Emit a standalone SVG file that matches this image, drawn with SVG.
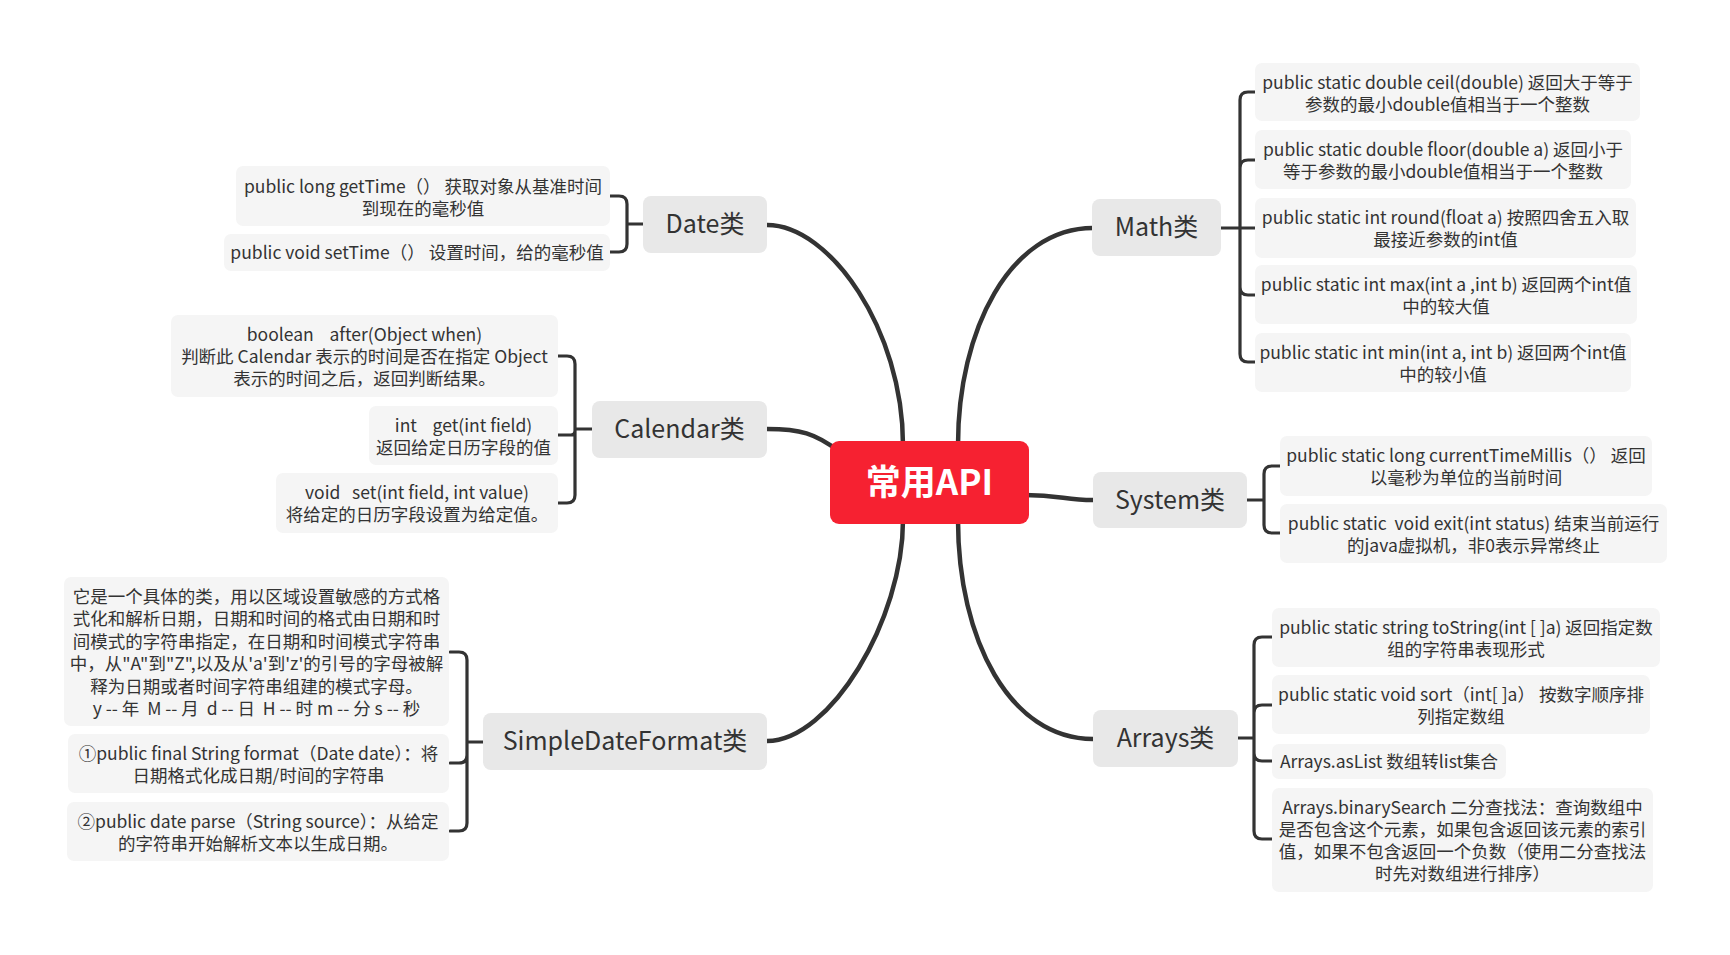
<svg xmlns="http://www.w3.org/2000/svg" width="1730" height="955" viewBox="0 0 1730 955">
<style>
text{font-family:"Noto Sans CJK SC","Noto Sans",sans-serif;fill:#333;text-anchor:middle;white-space:pre}
.c{fill:#F5F5F5}
.t{fill:#E8E8E8}
.ct{font-size:17.5px}
.tt{font-size:25px}
.main{fill:none;stroke:#333;stroke-width:4.5;stroke-linecap:round}
.br{fill:none;stroke:#333;stroke-width:3.2;stroke-linecap:round;stroke-linejoin:round}
</style>
<rect width="1730" height="955" fill="#fff"/>
<g id="connectors">
<path class="main" d="M767,225 C830,225 903,330 903,445"/>
<path class="main" d="M767,429 C800,429 815,433 840,452"/>
<path class="main" d="M767,741 C830,741 903,620 903,520"/>
<path class="main" d="M958,445 C958,330 1010,228 1093,228"/>
<path class="main" d="M1025,495 C1060,495 1065,500 1093,500"/>
<path class="main" d="M958,520 C958,640 1010,739 1093,739"/>
<path class="br" d="M643,224 H627 M627,224 V204 Q627,196 619,196 H610 M627,224 V244 Q627,252 619,252 H610"/>
<path class="br" d="M592,429 H575 M575,429 V364 Q575,356 567,356 H558 M575,429 V431 Q575,435 571,435 H558 M575,429 V495 Q575,503 567,503 H558"/>
<path class="br" d="M483,742 H467 M467,742 V660 Q467,652 459,652 H450 M467,742 V755 Q467,763 459,763 H450 M467,742 V823 Q467,831 459,831 H450"/>
<path class="br" d="M1221,228 H1240 M1240,228 V100 Q1240,92 1248,92 H1255 M1240,228 V168 Q1240,160 1248,160 H1255 M1240,228 H1255 M1240,228 V287 Q1240,295 1248,295 H1255 M1240,228 V354 Q1240,362 1248,362 H1255"/>
<path class="br" d="M1247,500 H1264 M1264,500 V474 Q1264,466 1272,466 H1280 M1264,500 V525 Q1264,533 1272,533 H1280"/>
<path class="br" d="M1238,738 H1254 M1254,738 V645 Q1254,637 1262,637 H1272 M1254,738 V713 Q1254,705 1262,705 H1272 M1254,738 V753 Q1254,761 1262,761 H1272 M1254,738 V831 Q1254,839 1262,839 H1272"/>
</g>
<g id="root">
<rect x="830" y="441" width="199" height="83" rx="9" fill="#F62131"/>
<text x="929.5" y="495" style="font-size:35px;font-weight:bold;fill:#fff">常用API</text>
</g>
<g id="date">
<rect class="t" x="643" y="196" width="124" height="57" rx="8"/>
<text class="tt" x="705" y="233">Date类</text>
</g>
<g id="date-1">
<rect class="c" x="236" y="166" width="374" height="60" rx="7"/>
<text class="ct" x="423" y="193">public long getTime（） 获取对象从基准时间</text>
<text class="ct" x="423" y="215">到现在的毫秒值</text>
</g>
<g id="date-2">
<rect class="c" x="224" y="234" width="386" height="37" rx="7"/>
<text class="ct" x="417" y="259">public void setTime（） 设置时间，给的毫秒值</text>
</g>
<g id="calendar">
<rect class="t" x="592" y="401" width="175" height="57" rx="8"/>
<text class="tt" x="679.5" y="438">Calendar类</text>
</g>
<g id="calendar-1">
<rect class="c" x="171" y="315" width="387" height="82" rx="7"/>
<text class="ct" x="364.5" y="341">boolean    after(Object when)</text>
<text class="ct" x="364.5" y="363">判断此 Calendar 表示的时间是否在指定 Object</text>
<text class="ct" x="364.5" y="385">表示的时间之后，返回判断结果。</text>
</g>
<g id="calendar-2">
<rect class="c" x="369" y="406" width="189" height="59" rx="7"/>
<text class="ct" x="463.5" y="432">int    get(int field)</text>
<text class="ct" x="463.5" y="454">返回给定日历字段的值</text>
</g>
<g id="calendar-3">
<rect class="c" x="276" y="473" width="282" height="60" rx="7"/>
<text class="ct" x="417" y="499">void   set(int field, int value)</text>
<text class="ct" x="417" y="521">将给定的日历字段设置为给定值。</text>
</g>
<g id="sdf">
<rect class="t" x="483" y="713" width="284" height="57" rx="8"/>
<text class="tt" x="625" y="750">SimpleDateFormat类</text>
</g>
<g id="sdf-1">
<rect class="c" x="64" y="577" width="385" height="149" rx="7"/>
<text class="ct" x="256.5" y="603">它是一个具体的类，用以区域设置敏感的方式格</text>
<text class="ct" x="256.5" y="625">式化和解析日期，日期和时间的格式由日期和时</text>
<text class="ct" x="256.5" y="648">间模式的字符串指定，在日期和时间模式字符串</text>
<text class="ct" x="256.5" y="670">中，从"A"到"Z",以及从'a'到'z'的引号的字母被解</text>
<text class="ct" x="256.5" y="693">释为日期或者时间字符串组建的模式字母。</text>
<text class="ct" x="256.5" y="715">y -- 年  M -- 月  d -- 日  H -- 时 m -- 分 s -- 秒</text>
</g>
<g id="sdf-2">
<rect class="c" x="68" y="734" width="381" height="59" rx="7"/>
<text class="ct" x="258.5" y="760">①public final String format（Date date）：将</text>
<text class="ct" x="258.5" y="782">日期格式化成日期/时间的字符串</text>
</g>
<g id="sdf-3">
<rect class="c" x="67" y="802" width="382" height="59" rx="7"/>
<text class="ct" x="258" y="828">②public date parse（String source）：从给定</text>
<text class="ct" x="258" y="850">的字符串开始解析文本以生成日期。</text>
</g>
<g id="math">
<rect class="t" x="1092" y="199" width="129" height="57" rx="8"/>
<text class="tt" x="1156.5" y="236">Math类</text>
</g>
<g id="math-1">
<rect class="c" x="1255" y="63" width="385" height="58" rx="7"/>
<text class="ct" x="1447.5" y="89">public static double ceil(double) 返回大于等于</text>
<text class="ct" x="1447.5" y="111">参数的最小double值相当于一个整数</text>
</g>
<g id="math-2">
<rect class="c" x="1255" y="130" width="376" height="59" rx="7"/>
<text class="ct" x="1443" y="156">public static double floor(double a) 返回小于</text>
<text class="ct" x="1443" y="178">等于参数的最小double值相当于一个整数</text>
</g>
<g id="math-3">
<rect class="c" x="1255" y="198" width="381" height="60" rx="7"/>
<text class="ct" x="1445.5" y="224">public static int round(float a) 按照四舍五入取</text>
<text class="ct" x="1445.5" y="246">最接近参数的int值</text>
</g>
<g id="math-4">
<rect class="c" x="1255" y="265" width="382" height="59" rx="7"/>
<text class="ct" x="1446" y="291">public static int max(int a ,int b) 返回两个int值</text>
<text class="ct" x="1446" y="313">中的较大值</text>
</g>
<g id="math-5">
<rect class="c" x="1255" y="333" width="376" height="59" rx="7"/>
<text class="ct" x="1443" y="359">public static int min(int a, int b) 返回两个int值</text>
<text class="ct" x="1443" y="381">中的较小值</text>
</g>
<g id="system">
<rect class="t" x="1093" y="472" width="154" height="56" rx="8"/>
<text class="tt" x="1170" y="509">System类</text>
</g>
<g id="system-1">
<rect class="c" x="1280" y="436" width="372" height="60" rx="7"/>
<text class="ct" x="1466" y="462">public static long currentTimeMillis（） 返回</text>
<text class="ct" x="1466" y="484">以毫秒为单位的当前时间</text>
</g>
<g id="system-2">
<rect class="c" x="1280" y="504" width="387" height="59" rx="7"/>
<text class="ct" x="1473.5" y="530">public static  void exit(int status) 结束当前运行</text>
<text class="ct" x="1473.5" y="552">的java虚拟机，非0表示异常终止</text>
</g>
<g id="arrays">
<rect class="t" x="1093" y="710" width="145" height="57" rx="8"/>
<text class="tt" x="1165.5" y="747">Arrays类</text>
</g>
<g id="arrays-1">
<rect class="c" x="1272" y="608" width="388" height="59" rx="7"/>
<text class="ct" x="1466" y="634">public static string toString(int [ ]a) 返回指定数</text>
<text class="ct" x="1466" y="656">组的字符串表现形式</text>
</g>
<g id="arrays-2">
<rect class="c" x="1272" y="675" width="378" height="59" rx="7"/>
<text class="ct" x="1461" y="701">public static void sort（int[ ]a） 按数字顺序排</text>
<text class="ct" x="1461" y="723">列指定数组</text>
</g>
<g id="arrays-3">
<rect class="c" x="1272" y="744" width="234" height="35" rx="7"/>
<text class="ct" x="1389" y="768">Arrays.asList 数组转list集合</text>
</g>
<g id="arrays-4">
<rect class="c" x="1272" y="788" width="381" height="104" rx="7"/>
<text class="ct" x="1462.5" y="814">Arrays.binarySearch 二分查找法：查询数组中</text>
<text class="ct" x="1462.5" y="836">是否包含这个元素，如果包含返回该元素的索引</text>
<text class="ct" x="1462.5" y="858">值，如果不包含返回一个负数（使用二分查找法</text>
<text class="ct" x="1462.5" y="880">时先对数组进行排序）</text>
</g>
</svg>
